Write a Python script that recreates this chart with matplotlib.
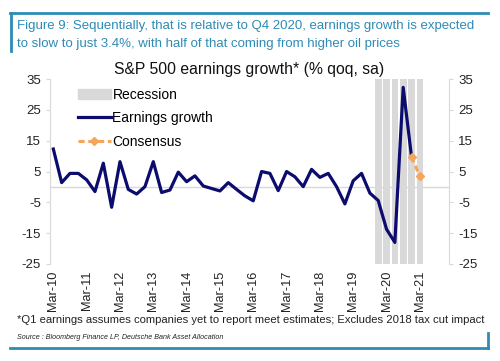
import matplotlib
matplotlib.use("Agg")
import matplotlib.pyplot as plt
from matplotlib.lines import Line2D
from matplotlib.patches import Patch

plt.rcParams['font.family'] = ['Liberation Sans', 'DejaVu Sans']
plt.rcParams['axes.unicode_minus'] = False

# Trimestres: Mar-10 ... Mar-21
quarters = []
for yr in range(10, 22):
    for m in ["Mar", "Jun", "Sep", "Dec"]:
        quarters.append(f"{m}-{yr}")
quarters = quarters[:45]

earnings = [12.3, 1.4, 4.4, 4.4, 2.3, -1.5, 7.7, -6.6, 8.2, -0.8, -2.3, 0.1,
            8.2, -1.8, -1.0, 4.8, 1.7, 3.6, 0.3, -0.5, -1.3, 1.4, -0.8, -2.9,
            -4.5, 5.0, 4.4, -1.2, 5.0, 3.3, 0.1, 5.7, 3.1, 4.4, 0.1, -5.5,
            2.0, 4.4, -2.0, -4.4, -13.7, -18.0, 32.3, 9.8]
consensus_q = ["Dec-20", "Mar-21"]
consensus = [9.8, 3.4]
recession_q = ["Dec-19", "Mar-20", "Jun-20", "Sep-20", "Dec-20", "Mar-21"]
tick_labels = ["Mar-10", "Mar-11", "Mar-12", "Mar-13", "Mar-14", "Mar-15",
               "Mar-16", "Mar-17", "Mar-18", "Mar-19", "Mar-20", "Mar-21"]

teal = "#2e8bb5"
navy = "#0c0c6e"
orange = "#f5a65b"
grey = "#d9d9d9"

fig = plt.figure(figsize=(5.0, 3.61), dpi=100)
ax = fig.add_axes([0.10, 0.2687, 0.798, 0.5123])

idx = {q: i for i, q in enumerate(quarters)}

ax.bar([idx[q] for q in recession_q], [60] * len(recession_q), bottom=-25,
       width=0.8, color=grey, zorder=1, label="Recession")
ax.axhline(0, color=grey, lw=1, zorder=0)
ax.plot(range(len(earnings)), earnings, color=navy, lw=2.3, zorder=3,
        label="Earnings growth")
ax.plot([idx[q] for q in consensus_q], consensus, color=orange, lw=2.2,
        ls=(0, (2, 1.2)), marker="D", ms=4, zorder=4, label="Consensus")

ax.set_xlim(-0.4, 47.5)
ax.set_ylim(-25, 35)
ax.set_yticks(range(-25, 36, 10))
ax.set_xticks([idx[t] for t in tick_labels])
ax.set_xticklabels(tick_labels, rotation=90, fontsize=9.2, color="#222222")
ax.tick_params(axis="x", length=0, pad=5)
ax.tick_params(axis="y", labelsize=9.5, colors="#222222", length=3,
               color=grey, labelright=True, right=True)
for s in ["top", "bottom"]:
    ax.spines[s].set_visible(False)
for s in ["left", "right"]:
    ax.spines[s].set_color(grey)

handles = [Patch(color=grey),
           Line2D([], [], color=navy, lw=2.3),
           Line2D([], [], color=orange, lw=2.2, ls=(0, (2, 1.2)), marker="D", ms=4)]
ax.legend(handles, ["Recession", "Earnings growth", "Consensus"],
          loc="upper left", bbox_to_anchor=(0.038, 1.02), frameon=False,
          fontsize=10, handlelength=2.4, handletextpad=0.1, labelspacing=0.68)

ax.set_title("S&P 500 earnings growth* (% qoq, sa)", fontsize=11.3,
             color="#111111", pad=4)

# Cabecera y pie
fig.add_artist(Line2D([0.02, 0.976], [0.964, 0.964], color=teal, lw=2))
fig.add_artist(Line2D([0.022, 0.022], [0.964, 0.858], color=teal, lw=2))
fig.text(0.034, 0.928, "Figure 9: Sequentially, that is relative to Q4 2020, earnings growth is expected",
         fontsize=9.5, color=teal, va="center")
fig.text(0.034, 0.878, "to slow to just 3.4%, with half of that coming from higher oil prices",
         fontsize=9.5, color=teal, va="center")
fig.text(0.034, 0.114, "*Q1 earnings assumes companies yet to report meet estimates; Excludes 2018 tax cut impact",
         fontsize=8.1, color="#222222", va="center")
fig.text(0.034, 0.066, "Source : Bloomberg Finance LP, Deutsche Bank Asset Allocation",
         fontsize=5.1, style="italic", color="#222222", va="center")
fig.add_artist(Line2D([0.02, 0.976], [0.036, 0.036], color=teal, lw=2))
fig.add_artist(Line2D([0.976, 0.976], [0.036, 0.078], color=teal, lw=2))

fig.savefig("out.png", dpi=100)
